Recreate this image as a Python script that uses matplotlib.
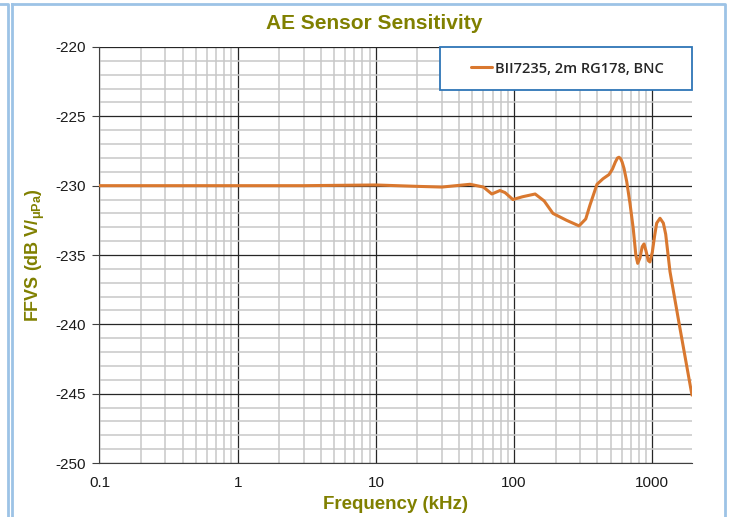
import matplotlib.pyplot as plt
from matplotlib.lines import Line2D
from matplotlib.patches import Rectangle
from matplotlib.ticker import FixedLocator, LogLocator, NullFormatter

plt.rcParams["axes.unicode_minus"] = False

# frequency (kHz) and sensitivity (dB re 1V/uPa)
freq_khz = [
    0.1, 0.5, 1, 3, 10, 20, 30, 48, 60, 69, 79, 86, 98, 115, 142, 165,
    191, 240, 295, 330, 354, 398, 440, 486, 515, 540, 560, 574, 590,
    605, 624, 653, 690, 728, 760, 784, 815, 845, 871, 900, 935, 961,
    1000, 1040, 1076, 1137, 1202, 1250, 1343, 1567, 1936,
]
ffvs_db = [
    -230.0, -230.0, -230.0, -230.0, -229.95, -230.05, -230.1, -229.9,
    -230.1, -230.6, -230.35, -230.5, -231.0, -230.8, -230.6, -231.1,
    -232.0, -232.5, -232.9, -232.4, -231.4, -229.9, -229.5, -229.2,
    -228.8, -228.3, -228.0, -227.95, -228.05, -228.3, -228.75, -229.7,
    -231.3, -233.1, -235.0, -235.6, -235.2, -234.4, -234.2, -234.7,
    -235.4, -235.5, -234.8, -233.6, -232.7, -232.35, -232.7, -233.5,
    -236.2, -240.0, -245.1,
]
series_label = "BII7235, 2m RG178, BNC"
x_ticks = [0.1, 1, 10, 100, 1000]
x_tick_labels = ["0.1", "1", "10", "100", "1000"]
y_ticks = [-250, -245, -240, -235, -230, -225, -220]

OLIVE = "#808000"
ORANGE = "#D9782F"
FRAME = "#9DC3E6"

fig = plt.figure(figsize=(7.33, 5.17), dpi=100)
ax = fig.add_axes([0.1357, 0.1044, 0.8083, 0.8047])

ax.plot(freq_khz, ffvs_db, color=ORANGE, linewidth=2.2,
        solid_joinstyle="round", solid_capstyle="round",
        label=series_label, zorder=3)

ax.set_xscale("log")
ax.set_xlim(0.1, 1936)
ax.set_ylim(-250, -220)

ax.xaxis.set_major_locator(FixedLocator(x_ticks))
ax.set_xticklabels(x_tick_labels)
ax.xaxis.set_minor_locator(LogLocator(base=10, subs=range(2, 10)))
ax.xaxis.set_minor_formatter(NullFormatter())
ax.set_yticks(y_ticks)
ax.yaxis.set_minor_locator(FixedLocator(range(-250, -219)))

ax.grid(which="major", color="#262626", linewidth=0.9, zorder=1)
ax.grid(which="minor", color="#C8C8C8", linewidth=1.1, zorder=0)
ax.set_axisbelow(True)

ax.tick_params(axis="both", which="major", labelsize=11,
               labelcolor="#1A1A1A", length=5, color="#404040")
ax.tick_params(axis="x", which="major", length=0, pad=9)
ax.tick_params(axis="y", which="major", pad=5)
ax.tick_params(which="minor", length=0)

for name in ["top", "right"]:
    ax.spines[name].set_visible(False)
ax.spines["left"].set_color("#404040")
ax.spines["bottom"].set_color("#404040")

for lab in ax.get_xticklabels() + ax.get_yticklabels():
    lab.set_fontfamily("Liberation Sans")

fig.text(0.51, 0.955, "AE Sensor Sensitivity", fontsize=15,
         fontweight="bold", color=OLIVE, family="Liberation Sans",
         ha="center", va="center")
ax.set_xlabel("Frequency (kHz)", fontsize=13.5, fontweight="bold",
              color=OLIVE, family="Liberation Sans", labelpad=5)
ax.set_ylabel("FFVS (dB V/$\\mathregular{_{\\mu Pa}}$)", fontsize=13,
              fontweight="bold", color=OLIVE, family="Liberation Sans",
              labelpad=6)

# legend box drawn separately so its padding matches the reference
box_x0 = 0.5747
box_y0 = 0.8966
ax.add_patch(Rectangle((box_x0, box_y0), 1 - box_x0, 1 - box_y0,
                       transform=ax.transAxes, facecolor="white",
                       edgecolor="#2E75B6", linewidth=1.3, zorder=4,
                       clip_on=False))
leg = ax.legend(loc="center",
                bbox_to_anchor=((box_x0 + 1) / 2 + 0.003,
                                (box_y0 + 1) / 2),
                frameon=False, handlelength=1.45, handletextpad=0.2,
                borderaxespad=0.0, borderpad=0.0,
                prop={"family": "Open Sans", "size": 10.5,
                      "weight": "semibold"})
for txt in leg.get_texts():
    txt.set_color("#262626")
leg.set_zorder(5)

# outer Excel-like frame lines (figure pixel coordinates)
W, H = 733.0, 517.0


def frame_line(xs, ys, lw=2.0, color=FRAME):
    fig.add_artist(Line2D([x / W for x in xs], [1 - y / H for y in ys],
                          color=color, linewidth=lw,
                          transform=fig.transFigure))


frame_line([0, 8, 8], [4, 4, H], lw=2.0)
frame_line([11.5, 11.5], [4, H], lw=2.0)
frame_line([11.5, 724.5, 724.5], [4, 4, H], lw=2.0)

fig.savefig("out.png", dpi=100)
